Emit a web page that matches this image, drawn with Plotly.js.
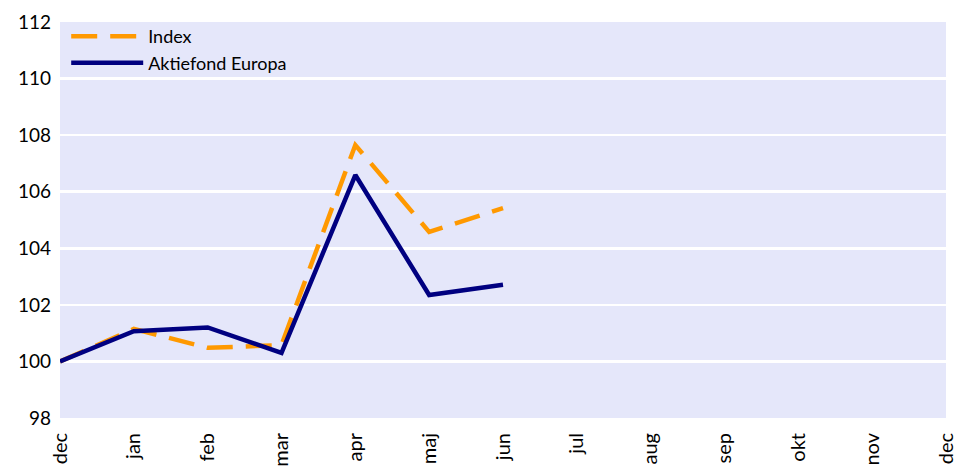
<!DOCTYPE html>
<html>
<head>
<meta charset="utf-8">
<script src="https://cdn.plot.ly/plotly-3.0.1.min.js"></script>
<style>html,body{margin:0;padding:0;background:#fff;}#chart{width:957px;height:467px;}</style>
</head>
<body>
<div id="chart"></div>
<script>
const months = ["dec","jan","feb","mar","apr","maj","jun","jul","aug","sep","okt","nov","dec"];
const indexValues = [100, 101.15, 100.48, 100.58, 107.65, 104.58, 105.42];
const fundValues = [100, 101.07, 101.2, 100.3, 106.59, 102.35, 102.71];
const yTicks = [98, 100, 102, 104, 106, 108, 110, 112];

const pos = months.map((_, i) => i);

const traces = [
  {
    x: pos.slice(0, indexValues.length), y: indexValues, name: "Index", mode: "lines", type: "scatter",
    line: {color: "#FF9900", width: 4.5, dash: "26px,13px"}
  },
  {
    x: pos.slice(0, fundValues.length), y: fundValues, name: "Aktiefond Europa", mode: "lines", type: "scatter",
    line: {color: "#000080", width: 4.5}
  }
];

const layout = {
  width: 957, height: 467,
  margin: {l: 60, r: 11, t: 22, b: 49},
  paper_bgcolor: "#ffffff",
  plot_bgcolor: "#E5E7FA",
  font: {family: "Lato, 'Open Sans', sans-serif", size: 18, color: "#000"},
  showlegend: true,
  legend: {x: 0.007, y: 1.01, xanchor: "left", yanchor: "top", bgcolor: "rgba(0,0,0,0)",
           font: {size: 18, color: "#000"}, tracegroupgap: 0, itemwidth: 72},
  xaxis: {
    range: [0, months.length - 1], tickmode: "array", tickvals: pos, ticktext: months,
    tickangle: -90, showgrid: false, zeroline: false, showline: false, ticks: "",
    tickfont: {size: 20}, ticklabelstandoff: 10, ticklabeloverflow: "allow", fixedrange: true
  },
  yaxis: {
    range: [98, 112], tickmode: "array", tickvals: yTicks, ticktext: yTicks.map(String),
    showgrid: true, gridcolor: "#ffffff", gridwidth: 2.5, zeroline: false, showline: false,
    ticks: "", ticklabelstandoff: 8, tickfont: {size: 19}, fixedrange: true
  }
};

Plotly.newPlot("chart", traces, layout, {displayModeBar: false, staticPlot: true});
</script>
</body>
</html>
